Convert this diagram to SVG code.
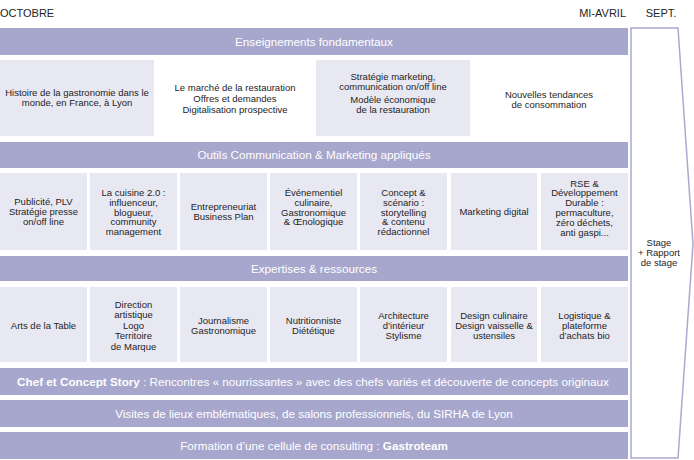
<svg xmlns="http://www.w3.org/2000/svg" width="694" height="460" viewBox="0 0 694 460">
<style>
.bar{fill:#a7a7cd}
.box{fill:#e8e8f2}
.bt{font-family:"Liberation Sans",Arial,sans-serif;font-size:11.7px;fill:#ffffff;text-anchor:middle}
.t{font-family:"Liberation Sans",Arial,sans-serif;font-size:9.5px;fill:#1e1e1e;text-anchor:middle}
.hd{font-family:"Liberation Sans",Arial,sans-serif;font-size:11px;fill:#1e1e1e}
.b{font-weight:bold}
</style>
<rect width="694" height="460" fill="#ffffff"/>
<g id="headers">
<text class="hd" x="0" y="17">OCTOBRE</text>
<text class="hd" x="626" y="17" text-anchor="end">MI-AVRIL</text>
<text class="hd" x="661" y="17" text-anchor="middle">SEPT.</text>
</g>
<g id="stage">
<polygon points="631,28 678,28 693,244 678,458 631,458" fill="#ffffff" stroke="#a9a9d1" stroke-width="1.5"/>
<text class="t" x="659"><tspan x="659" y="246">Stage</tspan><tspan x="659" y="256">+ Rapport</tspan><tspan x="659" y="266">de stage</tspan></text>
</g>
<g id="enseignements">
<rect class="bar" x="0" y="28" width="628" height="27"/>
<text class="bt" x="314" y="46">Enseignements fondamentaux</text>
</g>
<g id="e1"><rect class="box" x="0" y="60" width="154" height="76"/>
<text class="t"><tspan x="77" y="96">Histoire de la gastronomie dans le</tspan><tspan x="77" y="106">monde, en France, à Lyon</tspan></text></g>
<g id="e2">
<text class="t"><tspan x="235" y="91">Le marché de la restauration</tspan><tspan x="235" y="102">Offres et demandes</tspan><tspan x="235" y="113">Digitalisation prospective</tspan></text></g>
<g id="e3"><rect class="box" x="316" y="60" width="154" height="76"/>
<text class="t"><tspan x="393" y="79.5">Stratégie marketing,</tspan><tspan x="393" y="89.5">communication on/off line</tspan><tspan x="393" y="103">Modèle économique</tspan><tspan x="393" y="113">de la restauration</tspan></text></g>
<g id="e4">
<text class="t"><tspan x="549" y="97.5">Nouvelles tendances</tspan><tspan x="549" y="107.5">de consommation</tspan></text></g>

<g id="outils">
<rect class="bar" x="0" y="142" width="628" height="26"/>
<text class="bt" x="314" y="159">Outils Communication &amp; Marketing appliqués</text>
</g>
<g id="o1"><rect class="box" x="0" y="173" width="87" height="77"/>
<text class="t"><tspan x="43.5" y="205">Publicité, PLV</tspan><tspan x="43.5" y="214.8">Stratégie presse</tspan><tspan x="43.5" y="224.6">on/off line</tspan></text></g>
<g id="o2"><rect class="box" x="90" y="173" width="87" height="77"/>
<text class="t"><tspan x="133.5" y="196">La cuisine 2.0 :</tspan><tspan x="133.5" y="205.8">influenceur,</tspan><tspan x="133.5" y="215.6">blogueur,</tspan><tspan x="133.5" y="225.4">community</tspan><tspan x="133.5" y="235.2">management</tspan></text></g>
<g id="o3"><rect class="box" x="180" y="173" width="87" height="77"/>
<text class="t"><tspan x="223.5" y="210">Entrepreneuriat</tspan><tspan x="223.5" y="220">Business Plan</tspan></text></g>
<g id="o4"><rect class="box" x="270" y="173" width="87" height="77"/>
<text class="t"><tspan x="313.5" y="196">Événementiel</tspan><tspan x="313.5" y="205.8">culinaire,</tspan><tspan x="313.5" y="215.6">Gastronomique</tspan><tspan x="313.5" y="225.4">&amp; Œnologique</tspan></text></g>
<g id="o5"><rect class="box" x="360" y="173" width="87" height="77"/>
<text class="t"><tspan x="403.5" y="196">Concept &amp;</tspan><tspan x="403.5" y="205.8">scénario :</tspan><tspan x="403.5" y="215.6">storytelling</tspan><tspan x="403.5" y="225.4">&amp; contenu</tspan><tspan x="403.5" y="235.2">rédactionnel</tspan></text></g>
<g id="o6"><rect class="box" x="451" y="173" width="86" height="77"/>
<text class="t" x="494" y="215">Marketing digital</text></g>
<g id="o7"><rect class="box" x="541" y="173" width="87" height="77"/>
<text class="t"><tspan x="584.5" y="186.5">RSE &amp;</tspan><tspan x="584.5" y="196.3">Développement</tspan><tspan x="584.5" y="206.1">Durable :</tspan><tspan x="584.5" y="215.9">permaculture,</tspan><tspan x="584.5" y="225.7">zéro déchets,</tspan><tspan x="584.5" y="235.5">anti gaspi...</tspan></text></g>

<g id="expertises">
<rect class="bar" x="0" y="256" width="628" height="25"/>
<text class="bt" x="314" y="273">Expertises &amp; ressources</text>
</g>
<g id="x1"><rect class="box" x="0" y="287" width="87" height="75"/>
<text class="t" x="43.5" y="329">Arts de la Table</text></g>
<g id="x2"><rect class="box" x="90" y="287" width="87" height="75"/>
<text class="t"><tspan x="133.5" y="307.5">Direction</tspan><tspan x="133.5" y="318">artistique</tspan><tspan x="133.5" y="328.5">Logo</tspan><tspan x="133.5" y="339">Territoire</tspan><tspan x="133.5" y="349.5">de Marque</tspan></text></g>
<g id="x3"><rect class="box" x="180" y="287" width="87" height="75"/>
<text class="t"><tspan x="223.5" y="323.5">Journalisme</tspan><tspan x="223.5" y="334">Gastronomique</tspan></text></g>
<g id="x4"><rect class="box" x="270" y="287" width="87" height="75"/>
<text class="t"><tspan x="313.5" y="323.5">Nutritionniste</tspan><tspan x="313.5" y="334">Diététique</tspan></text></g>
<g id="x5"><rect class="box" x="360" y="287" width="87" height="75"/>
<text class="t"><tspan x="403.5" y="319">Architecture</tspan><tspan x="403.5" y="328.8">d’intérieur</tspan><tspan x="403.5" y="338.6">Stylisme</tspan></text></g>
<g id="x6"><rect class="box" x="451" y="287" width="86" height="75"/>
<text class="t"><tspan x="494" y="319">Design culinaire</tspan><tspan x="494" y="328.8">Design vaisselle &amp;</tspan><tspan x="494" y="338.6">ustensiles</tspan></text></g>
<g id="x7"><rect class="box" x="541" y="287" width="87" height="75"/>
<text class="t"><tspan x="584.5" y="319">Logistique &amp;</tspan><tspan x="584.5" y="328.8">plateforme</tspan><tspan x="584.5" y="338.6">d’achats bio</tspan></text></g>

<g id="chef">
<rect class="bar" x="0" y="368" width="628" height="27"/>
<text class="bt" x="313" y="385.5"><tspan class="b">Chef et Concept Story</tspan> : Rencontres « nourrissantes » avec des chefs variés et découverte de concepts originaux</text>
</g>
<g id="visites">
<rect class="bar" x="0" y="400" width="628" height="27"/>
<text class="bt" x="314" y="417.5">Visites de lieux emblématiques, de salons professionnels, du SIRHA de Lyon</text>
</g>
<g id="formation">
<rect class="bar" x="0" y="432" width="628" height="27"/>
<text class="bt" x="314" y="449.5">Formation d’une cellule de consulting : <tspan class="b">Gastroteam</tspan></text>
</g>
<g id="connectors"></g>
</svg>
